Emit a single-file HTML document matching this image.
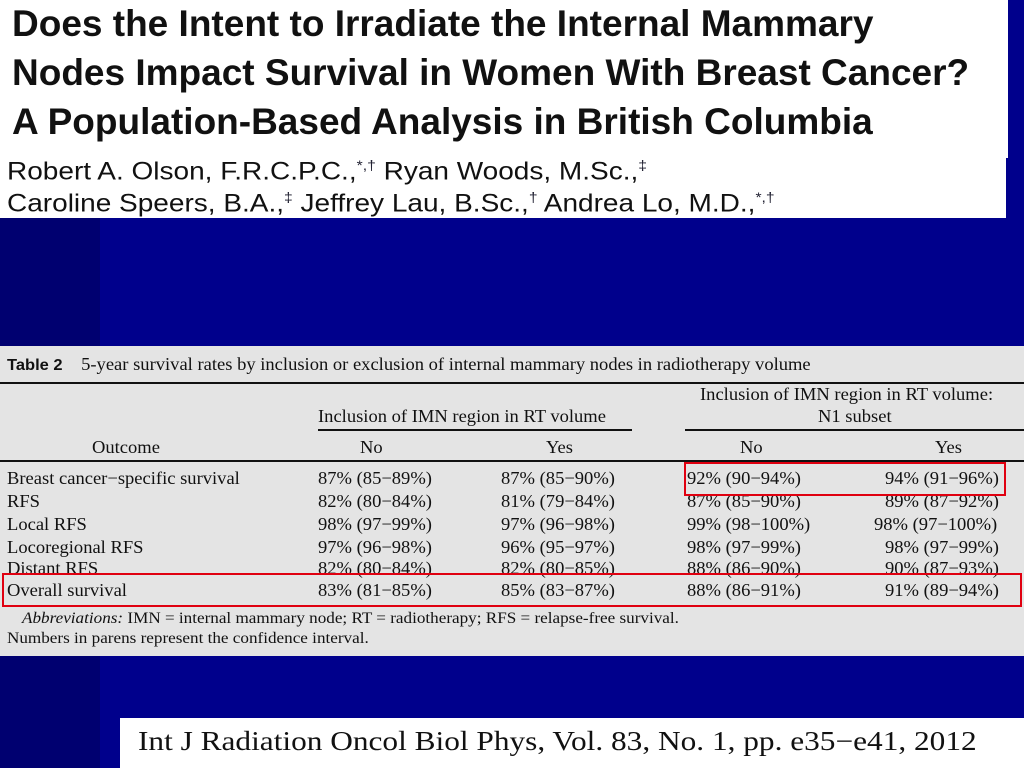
<!DOCTYPE html>
<html><head><meta charset="utf-8"><style>
*{margin:0;padding:0}
body{width:1024px;height:768px;overflow:hidden;background:#00008c;position:relative;font-family:"Liberation Serif",serif}
.abs{position:absolute;white-space:nowrap}
.t{font-family:"Liberation Sans",sans-serif;font-weight:bold;font-size:37px;color:#111;transform-origin:0 0;transform:scaleX(1.0)}
.a{font-family:"Liberation Sans",sans-serif;font-size:25px;color:#111;transform-origin:0 0;transform:scaleX(1.12)}
.a sup{font-size:14px;color:#223}
.s{font-size:18px;color:#111;transform-origin:0 0;transform:scaleX(1.03)}
.line{position:absolute;background:#111}
.red{position:absolute;border:2px solid #e00010}
</style></head><body>
<div class="abs" style="left:0;top:0;width:100px;height:768px;background:#000070"></div>
<div class="abs" style="left:0;top:0;width:1008px;height:158px;background:#fff"></div>
<div class="abs" style="left:0;top:158px;width:1006px;height:60px;background:#fff"></div>
<div class="abs t" style="left:12px;top:3px">Does the Intent to Irradiate the Internal Mammary</div>
<div class="abs t" style="left:12px;top:52px">Nodes Impact Survival in Women With Breast Cancer?</div>
<div class="abs t" style="left:12px;top:101px">A Population-Based Analysis in British Columbia</div>
<div class="abs a" style="left:7px;top:157px">Robert A. Olson, F.R.C.P.C.,<sup>*,†</sup> Ryan Woods, M.Sc.,<sup>‡</sup></div>
<div class="abs a" style="left:7px;top:189px">Caroline Speers, B.A.,<sup>‡</sup> Jeffrey Lau, B.Sc.,<sup>†</sup> Andrea Lo, M.D.,<sup>*,†</sup></div>

<div class="abs" style="left:0;top:346px;width:1024px;height:310px;background:#e4e4e4"></div>
<div class="abs s" style="left:7px;top:354px"><span style="font-family:'Liberation Sans',sans-serif;font-weight:bold;font-size:16px">Table 2</span>&nbsp;&nbsp;&nbsp; 5-year survival rates by inclusion or exclusion of internal mammary nodes in radiotherapy volume</div>
<div class="line" style="left:0;top:382px;width:1024px;height:2px"></div>
<div class="abs s" style="left:700px;top:384px">Inclusion of IMN region in RT volume:</div>
<div class="abs s" style="left:818px;top:406px">N1 subset</div>
<div class="abs s" style="left:318px;top:406px">Inclusion of IMN region in RT volume</div>
<div class="line" style="left:318px;top:429px;width:314px;height:2px"></div>
<div class="line" style="left:685px;top:429px;width:339px;height:2px"></div>
<div class="abs s" style="left:92px;top:437px">Outcome</div>
<div class="abs s" style="left:360px;top:437px">No</div>
<div class="abs s" style="left:546px;top:437px">Yes</div>
<div class="abs s" style="left:740px;top:437px">No</div>
<div class="abs s" style="left:935px;top:437px">Yes</div>
<div class="line" style="left:0;top:460px;width:1024px;height:2px"></div>

<div class="abs s" style="left:7px;top:468px">Breast cancer−specific survival</div>
<div class="abs s" style="left:7px;top:491px">RFS</div>
<div class="abs s" style="left:7px;top:514px">Local RFS</div>
<div class="abs s" style="left:7px;top:537px">Locoregional RFS</div>
<div class="abs s" style="left:7px;top:558px">Distant RFS</div>
<div class="abs s" style="left:7px;top:580px">Overall survival</div>

<div class="abs s" style="left:318px;top:468px">87% (85−89%)</div>
<div class="abs s" style="left:318px;top:491px">82% (80−84%)</div>
<div class="abs s" style="left:318px;top:514px">98% (97−99%)</div>
<div class="abs s" style="left:318px;top:537px">97% (96−98%)</div>
<div class="abs s" style="left:318px;top:558px">82% (80−84%)</div>
<div class="abs s" style="left:318px;top:580px">83% (81−85%)</div>

<div class="abs s" style="left:501px;top:468px">87% (85−90%)</div>
<div class="abs s" style="left:501px;top:491px">81% (79−84%)</div>
<div class="abs s" style="left:501px;top:514px">97% (96−98%)</div>
<div class="abs s" style="left:501px;top:537px">96% (95−97%)</div>
<div class="abs s" style="left:501px;top:558px">82% (80−85%)</div>
<div class="abs s" style="left:501px;top:580px">85% (83−87%)</div>

<div class="abs s" style="left:687px;top:468px">92% (90−94%)</div>
<div class="abs s" style="left:687px;top:491px">87% (85−90%)</div>
<div class="abs s" style="left:687px;top:514px">99% (98−100%)</div>
<div class="abs s" style="left:687px;top:537px">98% (97−99%)</div>
<div class="abs s" style="left:687px;top:558px">88% (86−90%)</div>
<div class="abs s" style="left:687px;top:580px">88% (86−91%)</div>

<div class="abs s" style="left:885px;top:468px">94% (91−96%)</div>
<div class="abs s" style="left:885px;top:491px">89% (87−92%)</div>
<div class="abs s" style="left:874px;top:514px">98% (97−100%)</div>
<div class="abs s" style="left:885px;top:537px">98% (97−99%)</div>
<div class="abs s" style="left:885px;top:558px">90% (87−93%)</div>
<div class="abs s" style="left:885px;top:580px">91% (89−94%)</div>

<div class="red" style="left:684px;top:462px;width:318px;height:30px"></div>
<div class="red" style="left:2px;top:573px;width:1016px;height:30px"></div>

<div class="abs s" style="left:22px;top:610px;font-size:16px;transform:scaleX(1.07)"><i>Abbreviations:</i> IMN = internal mammary node; RT = radiotherapy; RFS = relapse-free survival.</div>
<div class="abs s" style="left:7px;top:630px;font-size:16px;transform:scaleX(1.07)">Numbers in parens represent the confidence interval.</div>

<div class="abs" style="left:120px;top:718px;width:904px;height:50px;background:#fff"></div>
<div class="abs" style="left:138px;top:726px;font-size:27px;color:#111;transform-origin:0 0;transform:scaleX(1.16)">Int J Radiation Oncol Biol Phys, Vol. 83, No. 1, pp. e35−e41, 2012</div>
</body></html>
